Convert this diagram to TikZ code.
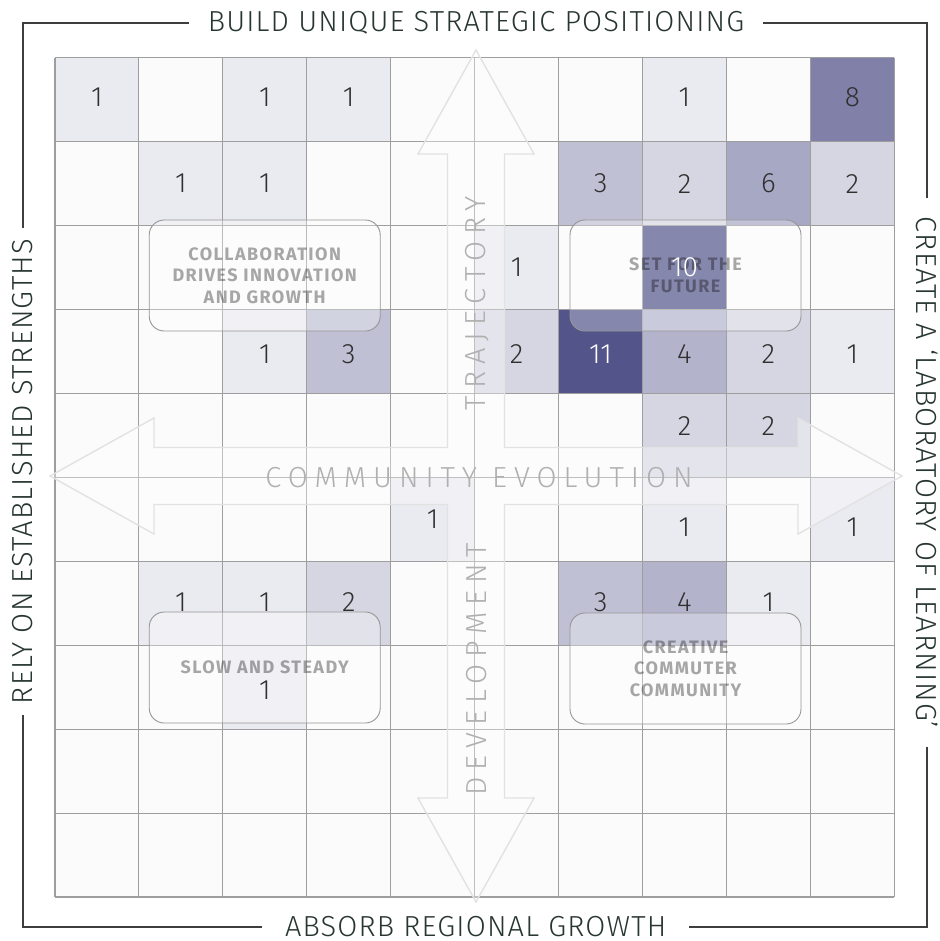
\documentclass[tikz,border=0pt]{standalone}
\usepackage{fontspec}
\usepackage{tikz}
\newfontfamily\thinfont{Fira Sans Light}
\newfontfamily\sidefont{Fira Sans Light}[LetterSpace=4]
\newfontfamily\spacedfont{Fira Sans Light}[LetterSpace=24]
\newfontfamily\labelfont{Fira Sans}[LetterSpace=8]
\definecolor{ink}{RGB}{40,54,50}
\definecolor{rule}{RGB}{62,62,62}
\definecolor{navy}{RGB}{83,84,138}
\definecolor{numgray}{RGB}{48,48,48}
\definecolor{cellbg}{RGB}{251,251,251}
\definecolor{gridgray}{RGB}{158,158,158}
\definecolor{crossgray}{RGB}{226,226,226}
\definecolor{axisgray}{RGB}{176,176,176}
\definecolor{boxgray}{RGB}{150,150,150}

\begin{document}
\begin{tikzpicture}[x=1pt, y=-1pt,
    frame/.style={draw=rule, line width=1.4pt},
    side/.style={text=ink, font=\sidefont\fontsize{29}{30}\selectfont, inner ysep=0pt},
    cell/.style={minimum size=83.93pt, inner sep=0pt},
    num/.style={text=numgray, font=\thinfont\fontsize{28}{30}\selectfont, inner sep=0pt},
    axis/.style={text=axisgray, font=\spacedfont\fontsize{29}{30}\selectfont, inner sep=0pt},
    group/.style={draw=boxgray, line width=0.9pt, fill=white, fill opacity=0.3, text opacity=0.34,
        rounded corners=15pt, minimum width=231pt, minimum height=111pt, align=center,
        font=\labelfont\bfseries\fontsize{18}{21.5}\selectfont},
    v1/.style={fill=navy!12}, v2/.style={fill=navy!24}, v3/.style={fill=navy!37},
    v4/.style={fill=navy!44}, v6/.style={fill=navy!51}, v8/.style={fill=navy!74},
    v10/.style={fill=navy, text=white}, v11/.style={fill=navy, text=white}]
    \useasboundingbox (0,0) rectangle (939,941);

    % Headings round the frame
    \node[side, inner xsep=19pt] (build) at (476,23) {BUILD UNIQUE STRATEGIC POSITIONING};
    \node[side, inner xsep=18pt, rotate=-90] (create) at (927,472.5) {CREATE A ‘LABORATORY OF LEARNING’};
    \node[side, inner xsep=23pt] (absorb) at (475.7,927) {ABSORB REGIONAL GROWTH};
    \node[side, inner xsep=11pt, rotate=90] (rely) at (23,471.5) {RELY ON ESTABLISHED STRENGTHS};

    \draw[frame] (rely.east) |- (build.west);
    \draw[frame] (build.east) -| (create.west);
    \draw[frame] (create.east) |- (absorb.east);
    \draw[frame] (absorb.west) -| (rely.west);

    % Cells
    \fill[cellbg] (55,57.7) rectangle (894.3,897);
    \foreach \r/\c/\v/\dy in {0/0/1/2, 0/2/1/2, 0/3/1/2, 0/7/1/2, 0/9/8/2,
        1/1/1/0, 1/2/1/0, 1/6/3/0, 1/7/2/0, 1/8/6/0, 1/9/2/0,
        2/5/1/0, 2/7/10/0,
        3/2/1/-3, 3/3/3/-3, 3/5/2/-3, 3/6/11/-3, 3/7/4/-3, 3/8/2/-3, 3/9/1/-3,
        4/7/2/9, 4/8/2/9,
        5/4/1/0, 5/7/1/-8, 5/9/1/-8,
        6/1/1/1, 6/2/1/1, 6/3/2/1, 6/6/3/1, 6/7/4/1, 6/8/1/1,
        7/2/1/-3}
        \node[cell, v\v] (cell-\r-\c) at ({55+(\c+0.5)*83.93},{57.7+(\r+0.5)*83.93}) {};

    % Grid
    \foreach \i in {0,...,10} {
        \draw[gridgray, line width=1.1pt] ({55+\i*83.93},57.7) -- ({55+\i*83.93},897);
        \draw[gridgray, line width=1.1pt] (55,{57.7+\i*83.93}) -- (894.3,{57.7+\i*83.93});
    }

    % Cross of arrows
    \draw[crossgray, line width=1.4pt, fill=white, fill opacity=0.35]
        (476,50) -- (534,154) -- (504.5,154) -- (504.5,447.5) -- (798,447.5) -- (798,418)
        -- (902,476) -- (798,534) -- (798,504.5) -- (504.5,504.5) -- (504.5,798) -- (534,798)
        -- (476,902) -- (418,798) -- (447.5,798) -- (447.5,504.5) -- (154,504.5) -- (154,534)
        -- (50,476) -- (154,418) -- (154,447.5) -- (447.5,447.5) -- (447.5,154) -- (418,154) -- cycle;
    \node[axis] (evolution) at (479,478) {COMMUNITY EVOLUTION};
    \node[axis, rotate=90] (trajectory) at (477,303) {TRAJECTORY};
    \node[axis, rotate=90] (development) at (477,669) {DEVELOPMENT};

    % Groups
    \node[group] (collab) at (264.7,275.5) {COLLABORATION\\DRIVES INNOVATION\\AND GROWTH};
    \node[group] (future) at (685.5,275.5) {SET FOR THE\\FUTURE};
    \node[group] (slow) at (264.7,667.5) {SLOW AND STEADY};
    \node[group] (commuter) at (685.5,668.5) {CREATIVE\\COMMUTER\\COMMUNITY};

    % Counts
    \foreach \r/\c/\v/\dy in {0/0/1/2, 0/2/1/2, 0/3/1/2, 0/7/1/2, 0/9/8/2,
        1/1/1/0, 1/2/1/0, 1/6/3/0, 1/7/2/0, 1/8/6/0, 1/9/2/0,
        2/5/1/0, 2/7/10/0,
        3/2/1/-3, 3/3/3/-3, 3/5/2/-3, 3/6/11/-3, 3/7/4/-3, 3/8/2/-3, 3/9/1/-3,
        4/7/2/9, 4/8/2/9,
        5/4/1/0, 5/7/1/-8, 5/9/1/-8,
        6/1/1/1, 6/2/1/1, 6/3/2/1, 6/6/3/1, 6/7/4/1, 6/8/1/1,
        7/2/1/-3}
        \node[num, v\v, fill=none, yshift=\dy pt] (count-\r-\c) at (cell-\r-\c) {\v};
\end{tikzpicture}
\end{document}
